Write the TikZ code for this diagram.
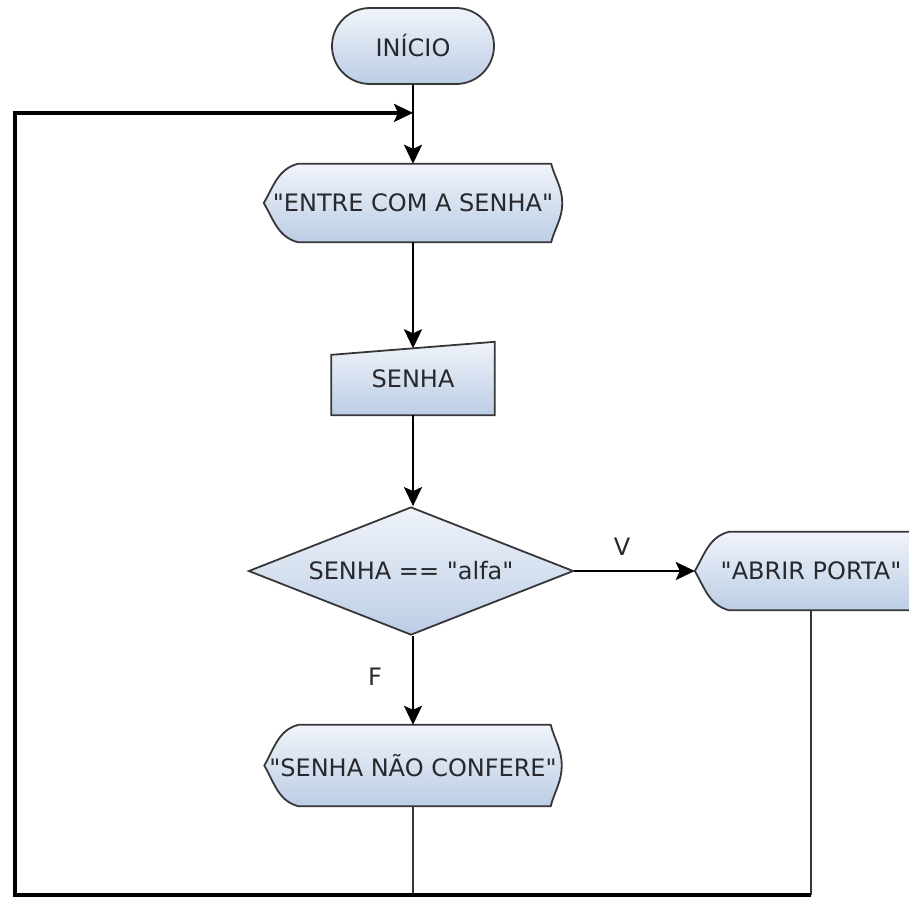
\documentclass[tikz,border=0pt]{standalone}
\usepackage{fontspec}
\setmainfont{DejaVu Sans}[Ligatures=TeXOff]
\usetikzlibrary{arrows.meta,calc,shapes.geometric,backgrounds}
\definecolor{boxtop}{RGB}{240,244,250}
\definecolor{boxbot}{RGB}{188,205,229}
\definecolor{edge}{RGB}{55,55,58}
\definecolor{ink}{RGB}{40,40,45}
\newcommand{\displayoutline}[1]{% name of the node
  \begin{scope}[on background layer]
  \path[boxfill] ($(#1.north west)+(34,0)$) -- ($(#1.north east)+(-11,0)$)
    to[out=-75,in=90] (#1.east) to[out=-90,in=75] ($(#1.south east)+(-11,0)$)
    -- ($(#1.south west)+(34,0)$) to[out=165,in=-60] (#1.west)
    to[out=60,in=195] ($(#1.north west)+(34,0)$) -- cycle;
  \end{scope}
}

\begin{document}
\begin{tikzpicture}[x=1pt,y=1pt,
  boxfill/.style={draw=edge,line width=1.8pt,top color=boxtop,bottom color=boxbot},
  txt/.style={font=\fontsize{24}{28}\selectfont,text=ink,inner sep=0pt},
  term/.style={txt,boxfill,rectangle,rounded corners=38pt,minimum width=162pt,minimum height=76pt},
  shown/.style={txt,rectangle,minimum height=78pt},
  test/.style={txt,boxfill,diamond,aspect=2.54,minimum width=325pt,minimum height=128pt},
  flow/.style={draw=black,line width=2.6pt,-{Stealth[length=19pt,width=18pt,inset=4pt]}},
  back/.style={draw=edge,line width=2.2pt}]
  \useasboundingbox (0,0) rectangle (909,-898);
  \clip (0,0) rectangle (909,-898);

  \node[term] (inicio) at (413,-46) {INÍCIO};
  \node[shown,minimum width=298pt] (entre) at (413,-203) {"ENTRE COM A SENHA"};
  \displayoutline{entre}
  \node[txt,rectangle,minimum width=163pt,minimum height=73pt] (senha) at (413,-378.5) {SENHA};
  \begin{scope}[on background layer]
    \path[boxfill] (senha.south west) -- ($(senha.north west)+(0,-13)$)
      -- (senha.north east) -- (senha.south east) -- cycle;
  \end{scope}
  \node[test] (teste) at (411,-571) {SENHA == "alfa"};
  \node[shown,minimum width=232pt] (abrir) at (811,-571) {"ABRIR PORTA"};
  \displayoutline{abrir}
  \node[shown,minimum width=297pt,minimum height=81pt] (erro) at (413,-765.5) {"SENHA NÃO CONFERE"};
  \displayoutline{erro}

  \node[txt] (v) at (622,-547) {V};
  \node[txt] (f) at (375,-677) {F};

  \coordinate (join) at ($(inicio.south)+(0,-28)$);
  \coordinate (senhatop) at ($(senha.north)+(0,-6.5)$);
  \coordinate (corner) at (15,-895);

  \draw[flow] (inicio.south) -- (entre.north);
  \draw[flow] (entre.south) -- (senhatop);
  \draw[flow] (senha.south) -- (senha.south |- teste.north);
  \draw[flow] (teste.east) -- (abrir.west);
  \draw[flow] (teste.south -| erro.north) -- (erro.north);
  \draw[back] (abrir.south) -- (abrir.south |- corner);
  \draw[back] (erro.south) -- (erro.south |- corner);
  \draw[flow,line width=3.2pt] (abrir.south |- corner) -- (corner) |- (join);
\end{tikzpicture}
\end{document}
